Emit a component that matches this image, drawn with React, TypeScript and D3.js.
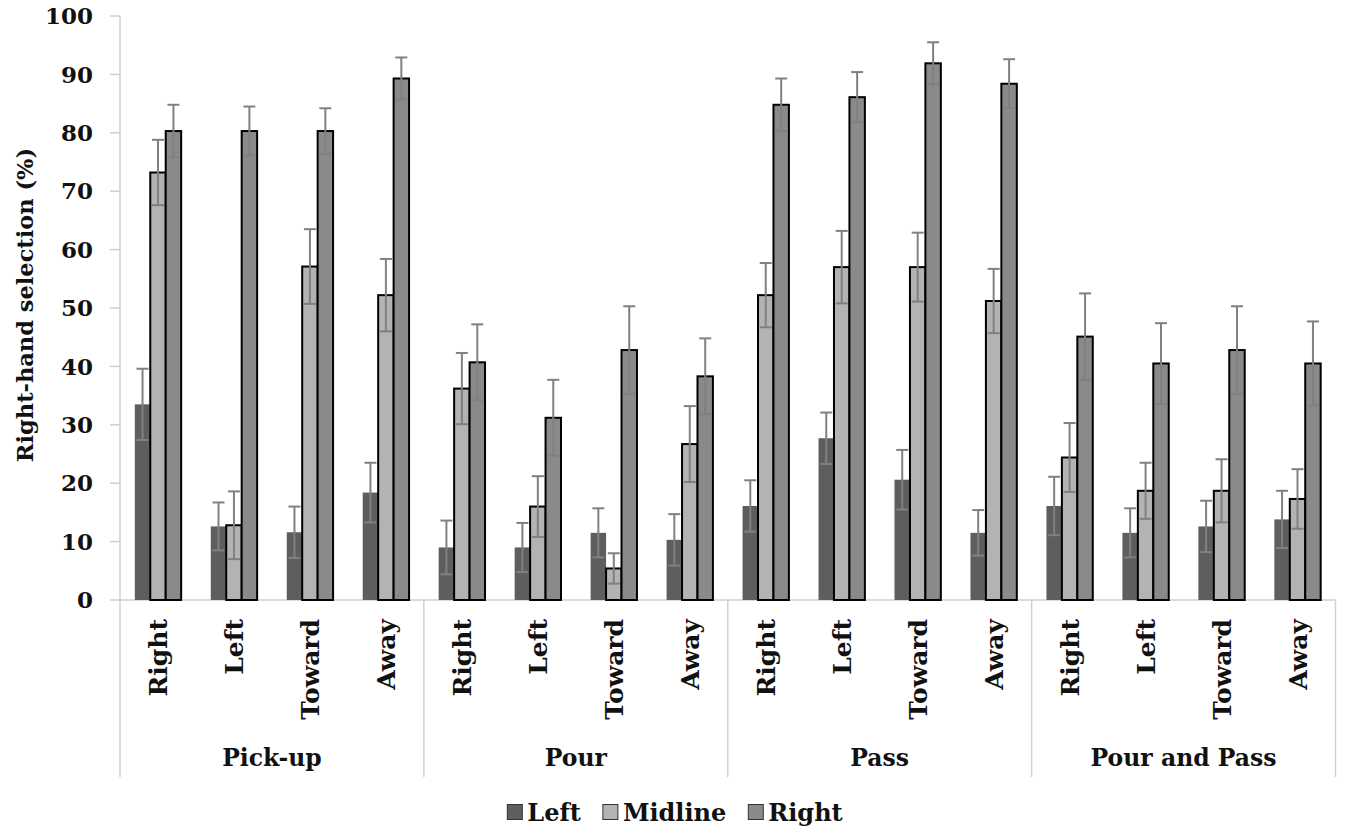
import * as d3 from "d3";
import React, { useRef, useEffect } from "react";

// tasks (outer groups) and object directions (inner categories)
const tasks = ["Pick-up", "Pour", "Pass", "Pour and Pass"];
const directions = ["Right", "Left", "Toward", "Away"];
const seriesNames = ["Left", "Midline", "Right"];
const yTicks = [0, 10, 20, 30, 40, 50, 60, 70, 80, 90, 100];

// values per category, in order Pick-up(R,L,T,A), Pour(...), Pass(...), Pour and Pass(...)
const leftValues = [33.5, 12.6, 11.6, 18.4, 9.0, 9.0, 11.5, 10.3, 16.1, 27.7, 20.6, 11.5, 16.1, 11.5, 12.6, 13.8];
const leftErrors = [6.1, 4.1, 4.4, 5.1, 4.6, 4.2, 4.2, 4.4, 4.4, 4.4, 5.1, 3.9, 5.0, 4.2, 4.4, 4.9];
const midlineValues = [73.2, 12.8, 57.1, 52.2, 36.2, 16.0, 5.4, 26.7, 52.2, 57.0, 57.0, 51.2, 24.4, 18.7, 18.7, 17.3];
const midlineErrors = [5.6, 5.8, 6.4, 6.2, 6.1, 5.2, 2.6, 6.5, 5.5, 6.2, 5.9, 5.5, 5.9, 4.8, 5.4, 5.1];
const rightValues = [80.3, 80.3, 80.3, 89.3, 40.7, 31.2, 42.8, 38.3, 84.8, 86.1, 91.9, 88.4, 45.1, 40.5, 42.8, 40.5];
const rightErrors = [4.5, 4.2, 3.9, 3.6, 6.5, 6.5, 7.5, 6.5, 4.5, 4.3, 3.6, 4.2, 7.4, 6.9, 7.5, 7.2];

const seriesValues = [leftValues, midlineValues, rightValues];
const seriesErrors = [leftErrors, midlineErrors, rightErrors];
const colors = ["#5e5e5e", "#b3b3b3", "#8a8a8a"];
const outlined = [false, true, true];

const FONT = "DejaVu Serif, serif";

export default function App() {
  const ref = useRef<SVGSVGElement | null>(null);

  useEffect(() => {
    if (!ref.current) return;
    const svg = d3.select(ref.current);
    svg.selectAll("*").remove();

    const width = 1350;
    const left = 120, right = 1335.5, top = 16, bottom = 600;
    const axisGrey = "#d0d0d0";

    const categories: string[] = [];
    tasks.forEach(t => directions.forEach(d => categories.push(`${t}|${d}`)));

    const x = d3.scaleBand<string>().domain(categories).range([left, right]).padding(0);
    const groupWidth = x.bandwidth() * 0.61;
    const xs = d3.scaleBand<number>().domain([0, 1, 2]).range([0, groupWidth]).padding(0);
    const y = d3.scaleLinear().domain([0, 100]).range([bottom, top]);

    const g = svg.append("g").style("font-family", FONT).style("font-weight", "bold");

    // y axis line (extends down through category label area)
    g.append("line").attr("x1", left).attr("x2", left).attr("y1", top).attr("y2", 777)
      .attr("stroke", axisGrey).attr("stroke-width", 1.5);
    // baseline
    g.append("line").attr("x1", left).attr("x2", right).attr("y1", y(0)).attr("y2", y(0))
      .attr("stroke", axisGrey).attr("stroke-width", 1.5);

    // y ticks
    yTicks.forEach(t => {
      g.append("line").attr("x1", left - 10).attr("x2", left).attr("y1", y(t)).attr("y2", y(t))
        .attr("stroke", axisGrey).attr("stroke-width", 1.5);
      g.append("text").attr("x", 93).attr("y", y(t)).attr("dy", "0.36em")
        .attr("text-anchor", "end").attr("font-size", 23)
        .attr("fill", "#111").text(t);
    });

    // y title
    g.append("text")
      .attr("transform", `translate(33,${305}) rotate(-90)`)
      .attr("text-anchor", "middle").attr("font-size", 22.5)
      .attr("fill", "#111").text("Right-hand selection (%)");

    // bars
    seriesNames.forEach((_, si) => {
      g.append("g").selectAll("rect").data(categories).join("rect")
        .attr("x", c => x(c)! + (x.bandwidth() - groupWidth) / 2 + xs(si)!)
        .attr("y", (_, i) => y(seriesValues[si][i]))
        .attr("width", xs.bandwidth())
        .attr("height", (_, i) => y(0) - y(seriesValues[si][i]))
        .attr("fill", colors[si])
        .attr("stroke", outlined[si] ? "#000" : "none")
        .attr("stroke-width", 2);
    });

    // error bars
    seriesNames.forEach((_, si) => {
      categories.forEach((c, i) => {
        const cx = x(c)! + (x.bandwidth() - groupWidth) / 2 + xs(si)! + xs.bandwidth() / 2;
        const v = seriesValues[si][i], e = seriesErrors[si][i];
        const eg = g.append("g").attr("stroke", "#808080").attr("stroke-width", 2);
        eg.append("line").attr("x1", cx).attr("x2", cx).attr("y1", y(v - e)).attr("y2", y(v + e));
        [v - e, v + e].forEach(w => {
          eg.append("line").attr("x1", cx - 6).attr("x2", cx + 6).attr("y1", y(w)).attr("y2", y(w));
        });
      });
    });

    // category labels
    categories.forEach(c => {
      const cx = x(c)! + x.bandwidth() / 2;
      g.append("text")
        .attr("transform", `translate(${cx},619) rotate(-90)`)
        .attr("text-anchor", "end").attr("dy", "0.36em")
        .attr("font-size", 25)
        .attr("fill", "#111").text(c.split("|")[1]);
    });

    // group separators and labels
    const groupW = (right - left) / tasks.length;
    tasks.forEach((t, ti) => {
      const gx = left + groupW * (ti + 1);
      g.append("line").attr("x1", gx).attr("x2", gx).attr("y1", y(0)).attr("y2", 777)
        .attr("stroke", axisGrey).attr("stroke-width", 1.5);
      g.append("text")
        .attr("x", left + groupW * ti + groupW / 2).attr("y", 758).attr("dy", "0.36em")
        .attr("text-anchor", "middle").attr("font-size", 23.5)
        .attr("fill", "#111").text(t);
    });

    // legend, centred on the page
    const legend = g.append("g");
    let lx = 0;
    seriesNames.forEach((s, si) => {
      const item = legend.append("g").attr("transform", `translate(${lx},0)`);
      item.append("rect").attr("x", 0).attr("y", -7.5).attr("width", 15).attr("height", 15)
        .attr("fill", colors[si]).attr("stroke", "#333").attr("stroke-width", 1);
      const txt = item.append("text").attr("x", 20).attr("y", 0).attr("dy", "0.36em")
        .attr("font-size", 24).attr("fill", "#111").text(s);
      const w = (txt.node() as SVGTextElement).getComputedTextLength();
      lx += 20 + w + 22;
    });
    const totalW = lx - 22;
    legend.attr("transform", `translate(${width / 2 - totalW / 2},812)`);
  }, []);

  return (
    <svg ref={ref} width={1350} height={836}
      style={{ position: "absolute", left: 0, top: 0, background: "#fff" }} />
  );
}
